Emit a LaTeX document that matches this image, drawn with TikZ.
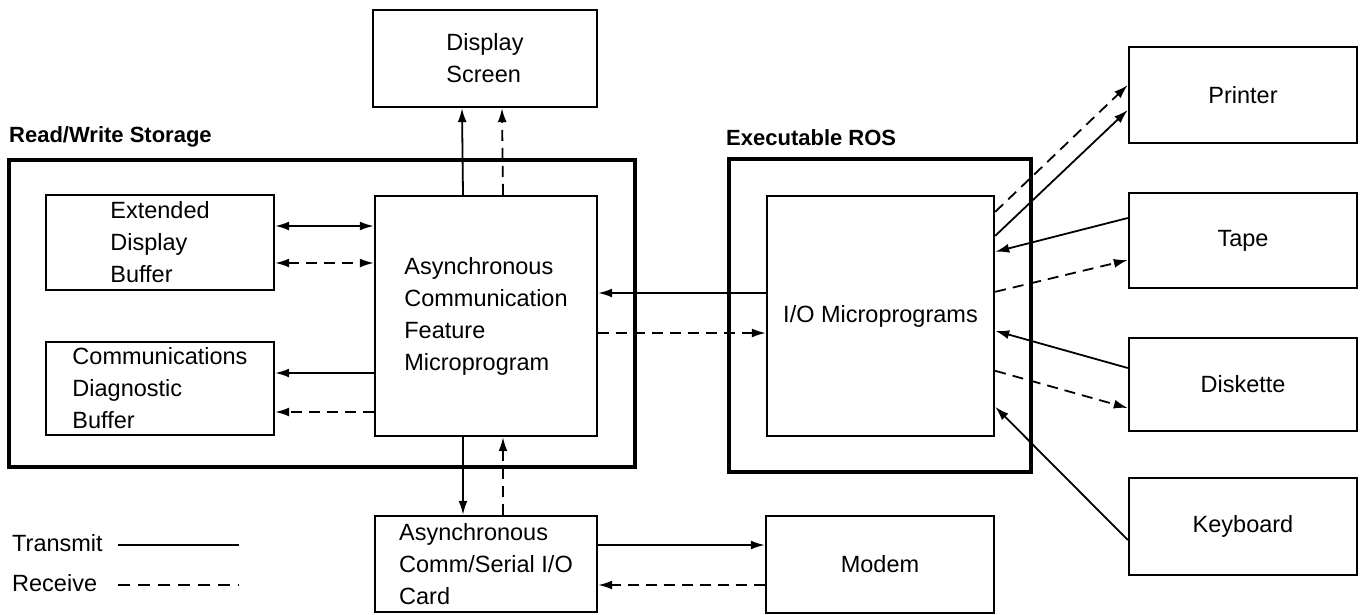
\documentclass[tikz,border=0pt]{standalone}
\usepackage{fontspec}
\setmainfont{Liberation Sans}
\usetikzlibrary{arrows.meta,calc}

\tikzset{
  box/.style={draw, line width=2.4pt, rectangle, align=left,
              font=\fontsize{23.5pt}{32pt}\selectfont, inner sep=0pt},
  container/.style={draw, line width=3.8pt, rectangle, inner sep=0pt},
  heading/.style={font=\fontsize{22pt}{26pt}\selectfont\bfseries, anchor=west, inner sep=0pt},
  legendtext/.style={font=\fontsize{23.5pt}{28pt}\selectfont, anchor=west, inner sep=0pt},
  tip/.style={-{Latex[length=14pt,width=9pt]}},
  bothtips/.style={{Latex[length=14pt,width=9pt]}-{Latex[length=14pt,width=9pt]}},
  tx/.style={line width=1.8pt, tip},
  rx/.style={line width=1.8pt, tip, dash pattern=on 11pt off 7pt},
}

\begin{document}
\begin{tikzpicture}[x=1pt,y=-1pt]
\useasboundingbox (0,0) rectangle (1361,614);

% storage areas
\node[container, minimum width=626pt, minimum height=307pt] (rw) at (322,313.5) {};
\node[container, minimum width=302pt, minimum height=313pt] (ros) at (880,315.5) {};
\node[heading] (rwlbl) at (9,137) {Read/Write Storage};
\node[heading] (roslbl) at (726,138) {Executable ROS};

% blocks
\node[box, minimum width=224pt, minimum height=97pt] (ds) at (485,58.5) {Display\\Screen};
\node[box, minimum width=222pt, minimum height=240pt] (acf) at (486,316)
  {\raisebox{6pt}{\begin{tabular}[c]{@{}l@{}}Asynchronous\\Communication\\Feature\\Microprogram\end{tabular}}};
\node[box, minimum width=228pt, minimum height=95pt] (edb) at (160,242.5) {Extended\\Display\\Buffer};
\node[box, minimum width=228pt, minimum height=93pt] (cdb) at (160,388.5) {Communications\\Diagnostic\\Buffer};
\node[box, minimum width=222pt, minimum height=96pt] (card) at (486,564) {Asynchronous\\Comm/Serial I/O\\Card};
\node[box, minimum width=227pt, minimum height=240pt] (io) at (880.5,316) {\raisebox{3pt}{I/O Microprograms}};
\node[box, minimum width=228pt, minimum height=97pt] (modem) at (880,564.5) {Modem};
\node[box, minimum width=228pt, minimum height=96pt] (printer) at (1243,95) {Printer};
\node[box, minimum width=228pt, minimum height=95pt] (tape) at (1243,240.5) {Tape};
\node[box, minimum width=228pt, minimum height=93pt] (diskette) at (1243,384.5) {Diskette};
\node[box, minimum width=228pt, minimum height=97pt] (keyboard) at (1243,526.5) {Keyboard};

% microprogram to display screen
\draw[tx] ($(acf.north)+(-23,0)$) -- ($(ds.south)+(-23,0)$);
\draw[rx] ($(acf.north)+(17,0)$) -- ($(ds.south)+(17,0)$);

% extended display buffer, both directions
\path ($(edb.east)+(0,-16.5)$) coordinate (e1) ($(edb.east)+(0,20.5)$) coordinate (e2);
\draw[tx, bothtips] (e1) -- (e1 -| acf.west);
\draw[rx, bothtips] (e2) -- (e2 -| acf.west);

% communications diagnostic buffer
\path ($(cdb.east)+(0,-15.5)$) coordinate (c1) ($(cdb.east)+(0,23.5)$) coordinate (c2);
\draw[tx] (c1 -| acf.west) -- (c1);
\draw[rx] (c2 -| acf.west) -- (c2);

% microprogram and I/O microprograms
\draw[tx] ($(io.west)+(0,-23)$) -- ($(acf.east)+(0,-23)$);
\draw[rx] ($(acf.east)+(0,17)$) -- ($(io.west)+(0,17)$);

% microprogram and adapter card
\draw[tx] ($(acf.south)+(-23,0)$) -- ($(card.north)+(-23,0)$);
\draw[rx] ($(card.north)+(17,0)$) -- ($(acf.south)+(17,0)$);

% adapter card and modem
\path ($(card.east)+(0,-19)$) coordinate (m1) ($(card.east)+(0,21)$) coordinate (m2);
\draw[tx] (m1) -- (m1 -| modem.west);
\draw[rx] (m2 -| modem.west) -- (m2);

% I/O devices
\draw[rx] ($(io.north east)+(0,17)$) -- ($(printer.west)+(0,-10)$);
\draw[tx] ($(io.north east)+(0,41)$) -- ($(printer.west)+(0,15)$);
\draw[tx] ($(tape.west)+(0,-22.5)$) -- ($(io.north east)+(0,57)$);
\draw[rx] ($(io.north east)+(0,97)$) -- ($(tape.west)+(0,19.5)$);
\draw[tx] ($(diskette.west)+(0,-16.5)$) -- ($(io.north east)+(0,136)$);
\draw[rx] ($(io.north east)+(0,176)$) -- ($(diskette.west)+(0,23.5)$);
\draw[tx] ($(keyboard.west)+(0,13.5)$) -- ($(io.north east)+(0,212)$);

% legend
\node[legendtext] (ltx) at (12,543) {Transmit};
\node[legendtext] (lrx) at (12,583) {Receive};
\coordinate (lt1) at (118,545); \coordinate (lt2) at (239,545);
\coordinate (lr1) at (118,585); \coordinate (lr2) at (239,585);
\draw[line width=1.8pt] (lt1) -- (lt2);
\draw[line width=1.8pt, dash pattern=on 12pt off 8pt] (lr1) -- (lr2);
\end{tikzpicture}
\end{document}
